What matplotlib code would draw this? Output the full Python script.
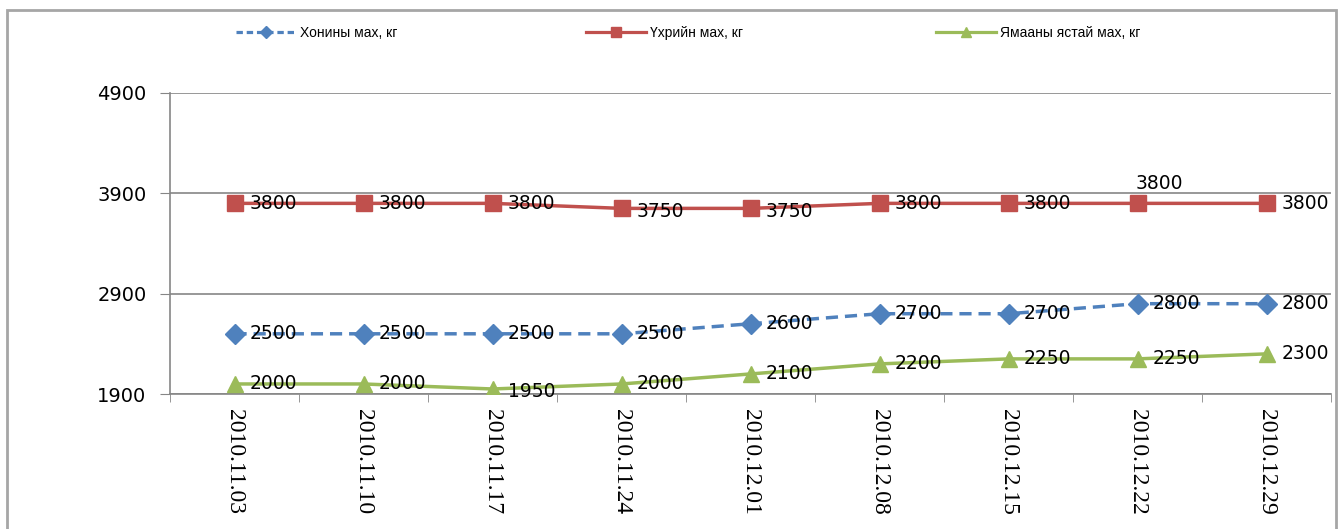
import matplotlib
matplotlib.use('Agg')
import matplotlib.pyplot as plt
from matplotlib.lines import Line2D
from matplotlib.patches import Rectangle

dates = ["2010.11.03", "2010.11.10", "2010.11.17", "2010.11.24", "2010.12.01",
         "2010.12.08", "2010.12.15", "2010.12.22", "2010.12.29"]
khon = [2500, 2500, 2500, 2500, 2600, 2700, 2700, 2800, 2800]
ukhr = [3800, 3800, 3800, 3750, 3750, 3800, 3800, 3800, 3800]
yamaa = [2000, 2000, 1950, 2000, 2100, 2200, 2250, 2250, 2300]
names = ["Хонины мах, кг", "Үхрийн мах, кг", "Ямааны ястай мах, кг"]
yticks = [1900, 2900, 3900, 4900]

blue = '#4F81BD'
red = '#C0504D'
green = '#9BBB59'
grid_c = '#868686'

fig = plt.figure(figsize=(13.4, 5.29), dpi=100)
ax = fig.add_axes([170 / 1340, 1 - 394 / 529, 1161 / 1340, 301 / 529])

x = list(range(len(dates)))
ax.plot(x, khon, color=blue, lw=2.5, ls=(0, (3.5, 2)), marker='D', ms=10,
        mec=blue, mfc=blue, zorder=3)
ax.plot(x, ukhr, color=red, lw=2.5, marker='s', ms=11.5, mec=red, mfc=red, zorder=3)
ax.plot(x, yamaa, color=green, lw=2.5, marker='^', ms=12, mec=green, mfc=green, zorder=3)

lab_font = dict(fontsize=13.5, color='black', family='DejaVu Sans')
for series in (khon, ukhr, yamaa):
    for i, v in enumerate(series):
        if series is ukhr and i == 7:
            ax.annotate(str(v), (i, v), xytext=(22, 20), textcoords='offset pixels',
                        ha='center', va='center', zorder=4, **lab_font)
        else:
            dy = -3 if v in (3750, 1950) else 0
            ax.annotate(str(v), (i, v), xytext=(15, dy), textcoords='offset pixels',
                        ha='left', va='center', zorder=4, **lab_font)

ax.set_xlim(-0.5, len(dates) - 0.5)
ax.set_ylim(1900, 4900)
ax.set_yticks(yticks)
ax.set_yticklabels([str(t) for t in yticks], fontsize=14, family='DejaVu Sans')
ax.set_xticks(x)
ax.set_xticklabels(dates, rotation=270, fontsize=17, family='Liberation Serif')
ax.set_xticks([i - 0.5 for i in range(len(dates) + 1)], minor=True)
ax.tick_params(axis='x', which='major', length=0, pad=11)
ax.tick_params(axis='x', which='minor', length=6, color=grid_c, direction='out')
ax.tick_params(axis='y', length=7, color=grid_c, pad=10)

ax.grid(axis='y', color=grid_c, lw=1.2)
for s in ('top', 'right'):
    ax.spines[s].set_visible(False)
for s in ('left', 'bottom'):
    ax.spines[s].set_color(grid_c)
    ax.spines[s].set_linewidth(1.2)

# legend entries, spread along the top
handles = [
    Line2D([], [], color=blue, lw=2.3, ls=(0, (2, 1.2)), marker='D', ms=6),
    Line2D([], [], color=red, lw=2.3, marker='s', ms=7),
    Line2D([], [], color=green, lw=2.3, marker='^', ms=7),
]
for h, name, xl in zip(handles, names, [236, 586, 936]):
    fig.legend([h], [name], loc='center left', bbox_to_anchor=(xl / 1340, 1 - 33 / 529),
               frameon=False, handlelength=4.3, handletextpad=0.3, borderaxespad=0,
               borderpad=0, prop={'family': ['Liberation Sans Narrow', 'Liberation Sans'],
                                  'size': 10})

# outer chart frame
fig.patches.append(Rectangle((7 / 1340, -0.1), 1329 / 1340, 1.1 - 10 / 529,
                             transform=fig.transFigure, fill=False,
                             edgecolor='#A6A6A6', lw=2))

fig.savefig('out.png', dpi=100)
